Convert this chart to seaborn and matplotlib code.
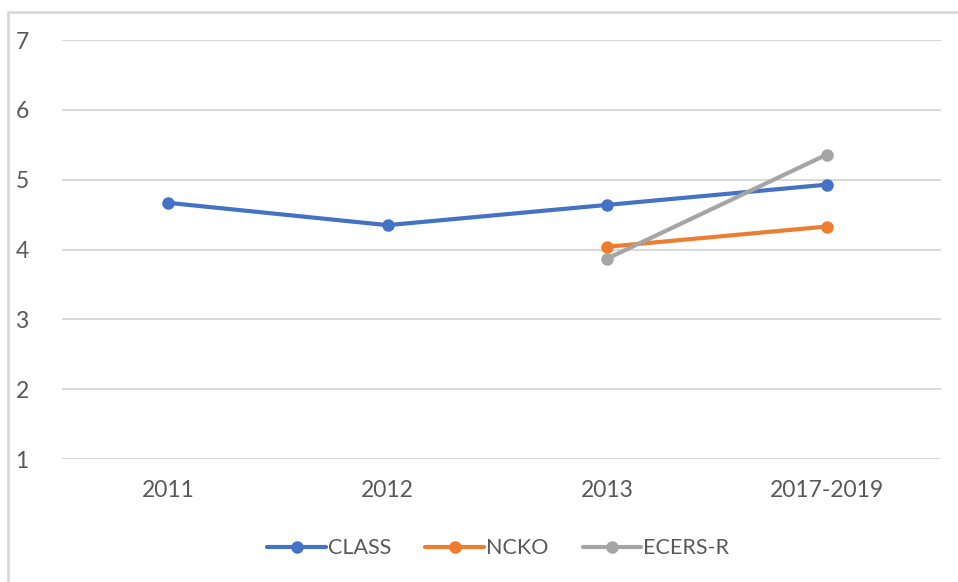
import numpy as np
import pandas as pd
import matplotlib.pyplot as plt
import seaborn as sns
from matplotlib.lines import Line2D

# data
years = ['2011', '2012', '2013', '2017-2019']
class_scores = [4.67, 4.35, 4.64, 4.93]
ncko_scores = [np.nan, np.nan, 4.04, 4.33]
ecers_scores = [np.nan, np.nan, 3.87, 5.36]
series_names = ['CLASS', 'NCKO', 'ECERS-R']
colors = ['#4472C4', '#ED7D31', '#A5A5A5']

df = pd.DataFrame({
    'year': years * 3,
    'score': class_scores + ncko_scores + ecers_scores,
    'measure': [n for n in series_names for _ in years],
})
df = df.dropna()

sns.set_style('white')
plt.rcParams['font.family'] = ['Lato', 'DejaVu Sans']
text_col = '#595959'

fig = plt.figure(figsize=(9.58, 5.82), dpi=100)
ax = fig.add_axes([0.0647, 0.2113, 0.9173, 0.7197])

sns.lineplot(data=df, x='year', y='score', hue='measure', hue_order=series_names,
             palette=colors, marker='o', markersize=9, markeredgewidth=0,
             linewidth=3, sort=False, ax=ax, legend=False)

ax.set_xlim(-0.483, 3.52)
ax.set_ylim(1, 7)
ax.set_yticks(range(1, 8))
ax.yaxis.grid(True, color='#D9D9D9', linewidth=1.5)
ax.set_axisbelow(True)
for s in ax.spines.values():
    s.set_visible(False)
ax.set_xlabel('')
ax.set_ylabel('')
ax.tick_params(axis='y', length=0, pad=24, labelsize=16.5, labelcolor=text_col)
ax.tick_params(axis='x', length=0, pad=15, labelsize=16.5, labelcolor=text_col)

handles = [Line2D([0], [0], color=c, linewidth=3, marker='o', markersize=9,
                  markeredgewidth=0) for c in colors]
fig.legend(handles, series_names, loc='center', bbox_to_anchor=(0.52, 0.058),
           ncol=3, frameon=False, fontsize=15.5, labelcolor=text_col,
           handlelength=2.7, handletextpad=0.1, columnspacing=1.6)

# outer chart border (left and top only visible in the crop)
fig.add_artist(Line2D([0.0084, 0.0084], [0.0, 0.979], transform=fig.transFigure,
                      color='#D9D9D9', linewidth=2))
fig.add_artist(Line2D([0.0084, 1.0], [0.979, 0.979], transform=fig.transFigure,
                      color='#D9D9D9', linewidth=2))

fig.savefig('out.png', dpi=100)
